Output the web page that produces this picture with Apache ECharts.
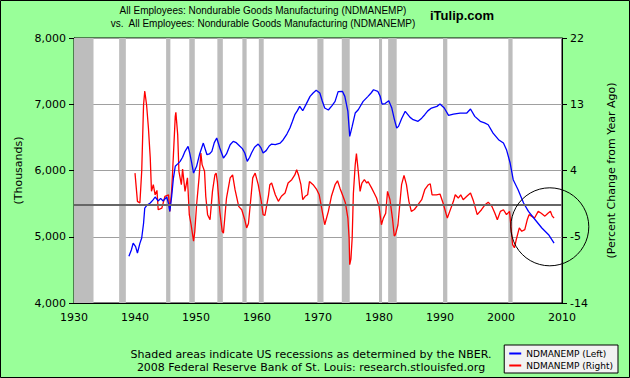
<!DOCTYPE html>
<html><head><meta charset="utf-8">
<script src="https://cdn.jsdelivr.net/npm/echarts@6/dist/echarts.min.js"></script>
<style>html,body{margin:0;padding:0;background:#99FF99}#c{width:630px;height:378px;}</style>
</head><body><div id="c"></div>
<script>
// ---- data ----
const xTicks = [1930, 1940, 1950, 1960, 1970, 1980, 1990, 2000, 2010];
const leftTicks = [4000, 5000, 6000, 7000, 8000];
const rightTicks = [-14, -5, 4, 13, 22];
const recStart = [1930.0, 1937.4, 1945.1, 1948.9, 1953.5, 1957.6, 1960.3, 1969.9, 1973.9, 1980.0, 1981.5, 1990.5, 2001.2];
const recEnd   = [1933.2, 1938.5, 1945.8, 1949.8, 1954.4, 1958.3, 1961.1, 1970.9, 1975.2, 1980.5, 1982.9, 1991.2, 2001.9];
const blueYears = [1939.0,1939.4,1939.7,1940.1,1940.4,1940.8,1941.1,1941.4,1941.6,1942.0,1942.5,1943.0,1943.3,1943.8,1944.2,1944.6,1945.2,1945.5,1945.7,1946.0,1946.3,1946.6,1947.0,1947.4,1947.8,1948.2,1948.7,1949.0,1949.3,1949.6,1950.1,1950.6,1951.2,1951.8,1952.2,1952.6,1953.0,1953.4,1953.9,1954.5,1955.0,1955.6,1956.1,1956.6,1957.2,1957.6,1958.0,1958.4,1958.8,1959.1,1959.6,1960.2,1960.6,1961.0,1961.5,1962.0,1962.4,1963.0,1963.8,1964.3,1964.9,1965.4,1965.8,1966.2,1966.6,1967.0,1967.5,1968.0,1968.7,1969.2,1969.7,1970.3,1970.7,1971.1,1971.7,1972.3,1972.8,1973.3,1974.0,1974.4,1974.9,1975.2,1975.6,1976.1,1976.6,1977.4,1978.2,1978.7,1979.1,1979.8,1980.2,1980.5,1981.0,1981.6,1982.1,1982.5,1982.9,1983.2,1983.7,1984.3,1985.1,1985.6,1986.4,1987.0,1987.5,1988.0,1988.6,1989.5,1990.0,1990.7,1991.4,1992.2,1993.3,1994.4,1995.0,1995.7,1996.6,1997.3,1997.9,1998.7,1999.6,2000.4,2000.9,2001.5,2002.0,2002.8,2003.7,2004.5,2005.6,2006.7,2007.8,2008.7];
const blueValues = [4705,4800,4905,4850,4755,4900,4981,5200,5433,5480,5509,5560,5600,5540,5580,5540,5600,5500,5383,5600,5886,6063,6100,6138,6200,6289,6365,6250,6113,5962,6063,6250,6414,6238,6250,6289,6420,6490,6339,6188,6250,6389,6440,6420,6365,6330,6264,6138,6200,6264,6350,6399,6350,6264,6300,6370,6399,6390,6414,6465,6550,6641,6740,6842,6900,6968,6902,6990,7119,7170,7210,7169,7050,6943,6913,6980,7043,7190,7195,7119,6893,6515,6666,6867,6917,7043,7119,7170,7219,7195,7119,7003,7010,7053,6943,6780,6641,6666,6780,6893,6802,6767,6742,6790,6842,6900,6943,6968,7003,6943,6832,6852,6867,6867,6928,6817,6742,6720,6691,6565,6465,6414,6314,6113,5861,5710,5509,5383,5257,5132,5031,4905];
const redYears = [1940.0,1940.4,1940.8,1941.1,1941.4,1941.6,1941.9,1942.2,1942.5,1942.7,1943.0,1943.3,1943.6,1943.8,1944.4,1944.9,1945.5,1945.7,1946.0,1946.3,1946.6,1946.7,1947.0,1947.2,1947.6,1947.8,1948.2,1948.6,1948.9,1949.2,1949.6,1949.8,1950.1,1950.5,1950.8,1951.0,1951.4,1951.6,1951.9,1952.3,1952.7,1953.1,1953.3,1953.5,1953.9,1954.3,1954.5,1955.0,1955.6,1956.0,1956.4,1957.0,1957.5,1958.0,1958.3,1958.6,1959.0,1959.3,1959.7,1960.2,1960.7,1961.0,1961.3,1961.9,1962.1,1962.4,1963.0,1963.5,1964.0,1964.6,1965.1,1965.7,1966.2,1966.5,1966.8,1967.2,1967.5,1967.9,1968.3,1968.6,1969.2,1969.8,1970.2,1970.6,1971.1,1971.7,1972.2,1972.8,1973.2,1973.6,1974.1,1974.5,1974.9,1975.1,1975.2,1975.4,1975.6,1975.8,1976.1,1976.3,1976.6,1976.9,1977.2,1977.6,1978.0,1978.2,1978.8,1979.2,1979.6,1980.0,1980.4,1980.7,1981.1,1981.4,1981.8,1982.2,1982.5,1982.7,1983.1,1983.4,1983.7,1984.1,1984.5,1984.9,1985.3,1985.8,1986.4,1987.0,1987.5,1988.1,1988.4,1988.7,1989.4,1990.0,1990.5,1991.2,1991.6,1992.2,1992.5,1993.0,1993.4,1993.8,1994.4,1995.0,1995.5,1996.1,1996.8,1997.4,1997.9,1998.5,1999.0,1999.4,1999.9,2000.4,2000.9,2001.4,2001.6,2001.9,2002.2,2002.5,2003.0,2003.4,2003.9,2004.3,2004.6,2005.0,2005.5,2006.1,2006.6,2007.2,2007.7,2008.1,2008.4,2008.7];
const redValues = [3.65,-0.19,-0.42,3.89,12.9,14.8,12.9,9.77,5.7,1.17,2.07,0.7,1.3,-1.33,-1.1,0.49,0.7,-1.55,1.17,6.14,11.35,11.9,8.86,3.89,2.07,4.2,1.17,3.0,-2.0,-3.37,-5.6,-4.3,-0.65,3.0,6.37,4.8,3.89,0.5,-2.0,-2.7,1.17,3.42,3.65,2.5,-1.55,-4.26,-4.5,0.26,3.0,3.4,1.39,-0.87,-1.33,-2.7,-3.8,-3.2,0.26,3.0,3.65,2.07,-0.19,-2.0,-2.1,0.7,2.07,2.3,0.7,-0.19,0.5,0.94,2.3,2.75,3.4,4.1,3.4,2.07,0.03,0.5,0.7,2.5,2.07,1.39,0.7,-1.1,-3.37,-1.55,0.5,2.07,2.6,1.6,0.5,-0.42,-2.46,-5.2,-8.8,-8.0,-5.2,0.9,4.78,6.3,3.9,1.17,2.3,2.75,2.3,2.5,1.6,0.94,0.26,-0.87,-3.37,-2.5,-1.8,1.17,0.03,-2.46,-4.9,-4.7,-3.4,-0.65,2.07,3.34,2.07,-0.19,-1.55,-1.3,-0.65,0.03,1.39,2.07,2.2,0.7,0.7,0.8,-0.42,-2.46,-1.55,-0.19,0.7,0.26,0.7,0.03,0.5,0.94,-0.19,-2.0,-1.33,-0.65,-0.3,-0.87,-1.8,-2.7,-1.55,-1.33,-2.0,-1.55,-3.37,-6.08,-6.5,-5.4,-3.8,-4.26,-4.03,-2.7,-2.0,-2.2,-2.46,-1.55,-1.8,-2.2,-1.8,-1.55,-2.2,-2.46];
const refLineLeft = 5480;
const circleCenter = [2008.0, 5150];

// ---- chart ----
const FONT = 'DejaVu Sans';
const TFONT = 'Liberation Sans';
const chart = echarts.init(document.getElementById('c'), null, {renderer: 'svg'});
const blueData = blueYears.map((y, i) => [y, blueValues[i]]);
const redData = redYears.map((y, i) => [y, redValues[i]]);
const areas = recStart.map((s, i) => [{xAxis: s}, {xAxis: recEnd[i]}]);
const fmt = v => v.toLocaleString('en-US');

function texts(extra) {
  return [
    {type: 'text', x: 263, y: 10, style: {text: 'All Employees: Nondurable Goods Manufacturing (NDMANEMP)', align: 'center', verticalAlign: 'middle', fill: '#000', font: '10px ' + TFONT}},
    {type: 'text', x: 263, y: 23, style: {text: 'vs.  All Employees: Nondurable Goods Manufacturing (NDMANEMP)', align: 'center', verticalAlign: 'middle', fill: '#000', font: '10px ' + TFONT}},
    {type: 'text', x: 430, y: 15, style: {text: 'iTulip.com', verticalAlign: 'middle', fill: '#000', font: 'bold 13px ' + TFONT}},
    {type: 'text', x: 311, y: 354, style: {text: 'Shaded areas indicate US recessions as determined by the NBER.', align: 'center', verticalAlign: 'middle', fill: '#000', font: '11px ' + FONT}},
    {type: 'text', x: 311, y: 367, style: {text: '2008 Federal Reserve Bank of St. Louis: research.stlouisfed.org', align: 'center', verticalAlign: 'middle', fill: '#000', font: '11px ' + FONT}},
    {type: 'rect', shape: {x: 0.5, y: 0.5, width: 629, height: 377}, style: {fill: 'none', stroke: '#000', lineWidth: 1}, silent: true}
  ].concat(extra || []);
}

chart.setOption({
  animation: false,
  backgroundColor: '#99FF99',
  textStyle: {fontFamily: FONT},
  grid: {left: 74, top: 38, width: 488, height: 265, show: true, backgroundColor: '#FFFFFF', borderColor: '#000', borderWidth: 1},
  xAxis: {
    type: 'value', min: xTicks[0], max: xTicks[xTicks.length - 1], interval: 10,
    axisLine: {onZero: false, lineStyle: {color: '#000'}}, axisTick: {show: false},
    axisLabel: {color: '#000', fontSize: 11, fontFamily: FONT, margin: 9, formatter: v => String(v)},
    splitLine: {show: false}
  },
  yAxis: [{
    type: 'value', min: leftTicks[0], max: leftTicks[leftTicks.length - 1], interval: 1000, position: 'left',
    name: '(Thousands)', nameLocation: 'middle', nameGap: 50, nameRotate: 90,
    nameTextStyle: {color: '#000', fontSize: 11, fontFamily: FONT},
    axisLine: {show: true, onZero: false, lineStyle: {color: '#000'}},
    axisTick: {show: true, length: 5, lineStyle: {color: '#000'}},
    axisLabel: {color: '#000', fontSize: 11, fontFamily: FONT, margin: 8, formatter: fmt},
    splitLine: {show: true, lineStyle: {color: '#A0A0A0', width: 1}}
  }, {
    type: 'value', min: rightTicks[0], max: rightTicks[rightTicks.length - 1], interval: 9, position: 'right',
    name: '(Percent Change from Year Ago)', nameLocation: 'middle', nameGap: 44, nameRotate: 90,
    nameTextStyle: {color: '#000', fontSize: 11, fontFamily: FONT},
    axisLine: {show: true, onZero: false, lineStyle: {color: '#000'}},
    axisTick: {show: true, length: 5, lineStyle: {color: '#000'}},
    axisLabel: {color: '#000', fontSize: 11, fontFamily: FONT, margin: 8},
    splitLine: {show: false}
  }],
  legend: {
    orient: 'vertical', right: 12, bottom: 5, padding: [4, 5, 3, 5], itemGap: 3,
    backgroundColor: '#F2F2F2', borderColor: '#000', borderWidth: 1,
    icon: 'rect', itemWidth: 12, itemHeight: 2,
    textStyle: {fontSize: 9, color: '#000', fontFamily: FONT},
    data: ['NDMANEMP (Left)', 'NDMANEMP (Right)']
  },
  series: [{
    name: 'NDMANEMP (Left)', type: 'line', yAxisIndex: 0, data: blueData,
    showSymbol: false, lineStyle: {color: '#0000FF', width: 1.3}, itemStyle: {color: '#0000FF'},
    markArea: {silent: true, itemStyle: {color: '#BDBDBD'}, data: areas},
    markLine: {silent: true, symbol: 'none', label: {show: false}, lineStyle: {color: '#666', width: 2, type: 'solid'}, data: [{yAxis: refLineLeft}]},
    z: 3
  }, {
    name: 'NDMANEMP (Right)', type: 'line', yAxisIndex: 1, data: redData,
    showSymbol: false, lineStyle: {color: '#FF0000', width: 1.3}, itemStyle: {color: '#FF0000'},
    z: 2
  }],
  graphic: texts()
});

const c = chart.convertToPixel({xAxisIndex: 0, yAxisIndex: 0}, circleCenter);
chart.setOption({graphic: texts([
  {type: 'circle', shape: {cx: c[0], cy: c[1], r: 39}, style: {fill: 'none', stroke: '#000', lineWidth: 1}, silent: true, z: 10}
])}, {replaceMerge: ['graphic']});
</script></body></html>
